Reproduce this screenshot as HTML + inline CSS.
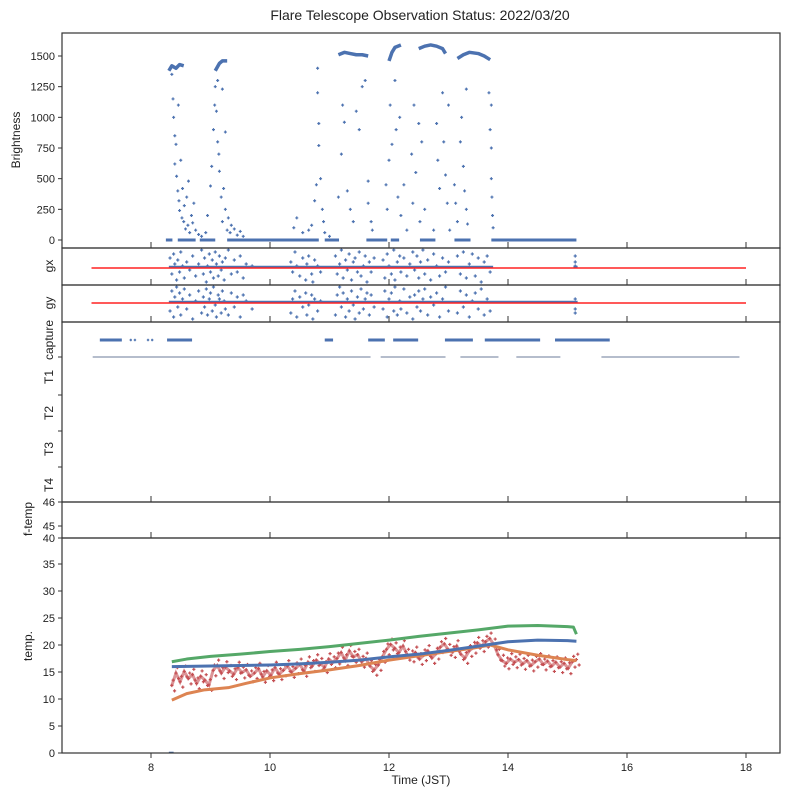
<!DOCTYPE html>
<html><head><meta charset="utf-8"><style>
body{margin:0;background:#fff;}
svg text{font-family:"Liberation Sans",Arial,sans-serif;fill:#222;}
</style></head><body>
<svg id="chart" width="789" height="798" xmlns="http://www.w3.org/2000/svg">
<text x="420" y="20" font-size="14" text-anchor="middle">Flare Telescope Observation Status: 2022/03/20</text>
<text x="421" y="784" font-size="12" text-anchor="middle">Time (JST)</text>
</svg>
<script>
// ---- data ----
const xTicks=[8,10,12,14,16,18];
const brightTicks=[0,250,500,750,1000,1250,1500];
const tempTicks=[0,5,10,15,20,25,30,35];
const brightZeroSegs=[[8.25,8.36],[8.45,8.75],[8.82,9.08],[9.28,10.82],[10.92,11.16],[11.62,11.97],[12.03,12.17],[12.52,12.78],[13.1,13.37],[13.72,15.15]];
const plateauT=[[8.3,8.35,8.42,8.48,8.55],[9.08,9.15,9.2,9.28],[11.15,11.25,11.35,11.45,11.55,11.65],[12.0,12.05,12.1,12.2],[12.5,12.6,12.7,12.8,12.9,12.95],[13.15,13.25,13.35,13.5,13.6,13.7]];
const plateauV=[[1380,1420,1400,1430,1420],[1380,1440,1460,1460],[1510,1530,1520,1510,1510,1500],[1460,1530,1570,1590],[1560,1580,1590,1580,1560,1520],[1480,1510,1530,1520,1500,1470]];
const brightT=[8.35,8.37,8.38,8.40,8.40,8.42,8.43,8.45,8.46,8.47,8.48,8.50,8.52,8.53,8.55,8.56,8.58,8.6,8.62,8.63,8.65,8.68,8.7,8.72,8.75,8.8,8.85,8.92,8.95,9.0,9.02,9.05,9.07,9.08,9.10,9.12,9.14,9.15,9.18,9.2,9.22,9.25,9.28,9.3,9.33,9.35,9.4,9.45,9.5,9.55,9.25,9.2,9.12,
10.4,10.45,10.55,10.65,10.7,10.75,10.78,10.8,10.8,10.82,10.82,10.85,10.88,10.9,10.92,11.0,
11.15,11.2,11.22,11.25,11.3,11.35,11.4,11.45,11.5,11.55,11.6,11.65,11.65,11.7,11.72,
11.95,11.97,12.0,12.02,12.05,12.1,12.12,12.15,12.18,12.2,12.25,12.3,
12.38,12.4,12.42,12.45,12.5,12.52,12.55,12.6,12.75,12.8,12.82,12.85,12.9,12.92,12.95,12.98,13.0,13.02,
13.1,13.12,13.15,13.2,13.22,13.25,13.27,13.3,13.3,13.32,13.68,13.7,13.72,13.72,13.73,13.75,13.74,13.72];
const brightV=[1350,1150,1000,850,620,780,520,400,1100,320,240,650,180,420,150,280,90,350,120,480,60,200,140,300,80,45,30,60,200,440,600,900,1100,1250,1050,800,700,560,350,150,420,250,80,180,60,120,90,40,70,30,880,1230,1300,
100,180,60,80,120,320,450,1400,1200,950,770,500,250,150,60,30,
350,700,1100,960,400,250,150,1050,900,1250,1300,300,480,150,80,
450,250,650,1100,780,1300,900,350,1000,200,450,80,
700,300,1100,550,950,150,800,250,80,950,650,420,1200,800,530,300,1100,80,
450,300,150,800,1000,600,400,1230,250,130,1200,900,750,500,350,100,200,1100];
const gT=[8.32,8.35,8.38,8.40,8.43,8.45,8.48,8.50,8.53,8.56,8.6,8.65,8.7,8.75,8.8,8.85,8.88,8.9,8.93,8.95,8.98,9.0,9.03,9.05,9.08,9.1,9.13,9.15,9.18,9.2,9.23,9.25,9.3,9.35,9.4,9.45,9.5,9.55,9.6,9.7,
10.35,10.38,10.42,10.45,10.5,10.55,10.6,10.62,10.65,10.7,10.72,10.75,10.8,10.85,
11.1,11.13,11.17,11.2,11.23,11.27,11.3,11.33,11.37,11.4,11.43,11.47,11.5,11.53,11.57,11.6,11.63,11.67,11.7,11.75,
11.9,11.93,11.97,12.0,12.04,12.08,12.1,12.14,12.18,12.2,12.25,12.3,12.35,12.4,12.43,12.47,12.5,12.53,12.57,12.6,12.65,12.7,12.75,12.8,12.85,12.9,12.95,13.0,13.15,13.2,13.25,13.3,13.35,13.4,13.45,13.5,13.55,13.6,13.65,13.7,
15.13,15.13,15.13];
const gxV=[0.5,-0.3,0.7,0.2,-0.6,0.4,-0.2,0.8,0.1,-0.5,0.3,-0.1,0.6,-0.4,0.2,0.9,-0.3,0.5,-0.7,0.1,0.7,-0.2,0.4,-0.5,0.8,0.2,-0.4,0.6,-0.1,0.3,-0.6,0.5,0.9,-0.3,0.4,-0.2,0.6,-0.5,0.2,0.1,
0.3,-0.2,0.8,0.1,-0.4,0.5,-0.6,0.2,0.6,-0.3,-0.7,0.4,0.1,-0.2,
0.6,-0.3,0.2,0.9,-0.5,0.4,-0.1,0.7,-0.6,0.3,0.5,-0.2,0.8,-0.4,0.1,0.6,-0.7,0.3,-0.2,0.5,
0.4,-0.5,0.7,0.1,-0.3,0.9,-0.6,0.3,0.6,-0.2,0.5,-0.4,0.2,0.8,-0.1,0.6,-0.5,0.3,0.9,-0.3,0.4,-0.6,0.7,0.1,-0.4,0.5,-0.2,0.3,0.6,-0.3,0.8,-0.5,0.2,0.7,-0.4,0.5,-0.7,0.3,0.6,-0.2,
0.6,0.3,0.1];
const gyV=[-0.4,0.6,-0.7,0.3,0.8,-0.2,0.5,-0.6,0.2,0.7,-0.3,0.4,-0.8,0.1,0.6,-0.5,0.3,-0.2,0.7,-0.6,0.2,0.5,-0.4,0.8,-0.1,-0.7,0.4,0.2,-0.5,0.6,0.1,-0.3,-0.6,0.5,-0.2,0.3,-0.7,0.4,0.1,-0.3,
-0.5,0.2,0.6,-0.7,0.3,-0.2,0.5,-0.6,-0.1,0.4,-0.8,0.2,-0.4,0.1,
-0.6,0.4,0.8,-0.2,0.5,-0.7,0.2,-0.4,0.6,-0.1,-0.8,0.3,-0.5,0.7,-0.3,0.2,0.5,-0.6,0.4,-0.2,
-0.3,0.6,-0.7,0.2,0.5,-0.4,0.8,-0.6,0.1,-0.3,0.7,-0.5,0.3,-0.8,0.4,-0.2,0.6,-0.4,0.2,0.7,-0.6,0.3,-0.1,0.5,-0.7,0.2,0.8,-0.4,-0.5,0.6,-0.2,0.4,-0.7,0.1,0.5,-0.3,0.7,-0.6,0.2,-0.4,
-0.5,-0.3,0.2];
const gxBaseSegs=[[8.3,13.75],[15.1,15.17]];
const gyBaseSegs=[[8.3,15.17]];
const redLineRange=[7.0,18.0];
const captureSegs=[[7.14,7.51],[8.27,8.69],[10.92,11.06],[11.65,11.93],[12.07,12.49],[12.94,13.41],[13.61,14.54],[14.79,15.71]];
const captureDots=[7.66,7.73,7.95,8.02];
const t1Segs=[[7.02,11.69],[11.86,12.95],[13.2,13.84],[14.14,14.88],[15.57,17.89]];
const blueTempT=[8.35,9,10,10.5,11,11.5,12,12.5,13,13.5,14,14.5,15,15.15];
const blueTempV=[16.0,16.1,16.3,16.5,16.8,17.2,17.8,18.3,19.0,19.8,20.6,20.9,20.8,20.7];
const greenTempT=[8.35,8.6,9,9.5,10,10.5,11,11.5,12,12.5,13,13.5,14,14.5,15,15.1,15.15];
const greenTempV=[16.9,17.4,17.9,18.3,18.8,19.2,19.7,20.3,20.9,21.6,22.2,22.8,23.5,23.6,23.4,23.3,22.0];
const orangeTempT=[8.35,8.6,8.9,9.3,9.6,10,10.5,11,11.5,12,12.5,13,13.4,13.7,14,14.5,15,15.15];
const orangeTempV=[9.8,11.0,11.7,12.1,12.9,13.9,14.7,15.4,16.2,17.2,18.0,18.8,19.4,20.0,19.1,18.1,17.3,17.1];
const redTempV=[12.5,14.8,13.2,15.1,13.8,14.5,12.9,14.2,13.5,12.6,
15.3,16.2,14.8,15.9,15.2,14.6,15.8,14.9,15.4,14.2,
14.8,15.6,14.1,15.2,14.4,15.8,14.6,15.3,16.1,15.0,
15.7,16.4,15.2,16.8,16.1,17.2,16.5,15.9,17.4,16.8,
17.5,18.6,17.2,18.9,17.8,18.2,16.9,17.5,16.1,15.4,
16.3,17.8,19.2,20.1,19.4,18.6,19.8,18.2,17.9,18.6,
17.4,18.1,18.9,17.6,18.4,19.6,20.2,19.1,18.7,19.8,
18.3,17.6,18.9,19.5,20.4,19.8,20.6,21.2,20.1,18.2,
17.1,16.6,17.4,16.8,17.3,16.5,17.1,16.2,16.9,17.4,
16.4,17.0,16.1,16.8,15.9,16.6,15.7,16.9,17.3];
const redTempStart=8.35, redTempEnd=15.15;

// ---- layout ----
const NS="http://www.w3.org/2000/svg";
const svg=document.getElementById('chart');
const L=62,R=780;
const X=t=>151+(t-8)*59.5;
const P={bright:[33,248],gx:[248,285],gy:[285,322],cap:[322,502],ft:[502,538],temp:[538,753]};
const Yb=v=>240-v*(184/1500);
const Ygx=v=>268-v*20;
const Ygy=v=>303-v*20;
const Yt=v=>753-v*5.4;
function el(tag,attrs,parent){const e=document.createElementNS(NS,tag);for(const k in attrs)e.setAttribute(k,attrs[k]);(parent||svg).appendChild(e);return e;}
function grp(name){const g=el('g',{});return g;}
function plus(g,x,y,c,s){el('path',{d:`M${x-s} ${y}H${x+s}M${x} ${y-s}V${y+s}`,stroke:c,'stroke-width':1.2},g);}
const BLUE='#4c72b0';

// brightness
let g=grp('brightness-zero-baseline');
brightZeroSegs.forEach(s=>el('line',{x1:X(s[0]),x2:X(s[1]),y1:Yb(0),y2:Yb(0),stroke:BLUE,'stroke-width':3},g));
g=grp('brightness-plateaus');
plateauT.forEach((ts,i)=>el('polyline',{points:ts.map((t,j)=>X(t)+','+Yb(plateauV[i][j])).join(' '),fill:'none',stroke:BLUE,'stroke-width':3.5,'stroke-linejoin':'round'},g));
g=grp('brightness-points');
brightT.forEach((t,i)=>plus(g,X(t),Yb(brightV[i]),BLUE,1.5));

// gx / gy
[[gxV,Ygx,'gx',gxBaseSegs],[gyV,Ygy,'gy',gyBaseSegs]].forEach(([vals,Y,nm,segs])=>{
  let gg=grp(nm+'-baseline');
  segs.forEach(s=>el('line',{x1:X(s[0]),x2:X(s[1]),y1:Y(0)-1,y2:Y(0)-1,stroke:BLUE,'stroke-width':2.5},gg));
  gg=grp(nm+'-points');
  gT.forEach((t,i)=>plus(gg,X(t),Y(vals[i]),BLUE,1.6));
  gg=grp(nm+'-reference-line');
  el('line',{x1:X(redLineRange[0]),x2:X(redLineRange[1]),y1:Y(0),y2:Y(0),stroke:'#f22',"stroke-width":1.6},gg);
});

// capture
g=grp('capture-status');
captureSegs.forEach(s=>el('line',{x1:X(s[0]),x2:X(s[1]),y1:340,y2:340,stroke:BLUE,'stroke-width':3},g));
captureDots.forEach(t=>plus(g,X(t),340,BLUE,1.2));
g=grp('t1-status');
t1Segs.forEach(s=>el('line',{x1:X(s[0]),x2:X(s[1]),y1:357,y2:357,stroke:'#3a4f78','stroke-width':0.8},g));

// temperatures
g=grp('temp-red-series');
const rStep=(redTempEnd-redTempStart)/(redTempV.length-1);
el('polyline',{points:redTempV.map((v,i)=>X(redTempStart+i*rStep)+','+Yt(v)).join(' '),fill:'none',stroke:'#c44e52','stroke-width':3,'stroke-opacity':0.6},g);
redTempV.forEach((v,i)=>{const t=redTempStart+i*rStep;
  plus(g,X(t),Yt(v),'#c44e52',1.6);
  plus(g,X(t+rStep*0.33),Yt(v+1.0),'#c44e52',1.6);
  plus(g,X(t+rStep*0.66),Yt(v-1.0),'#c44e52',1.6);});
[[orangeTempT,orangeTempV,'#dd8452','temp-orange-series'],[blueTempT,blueTempV,BLUE,'temp-blue-series'],[greenTempT,greenTempV,'#55a868','temp-green-series']].forEach(([ts,vs,c,nm])=>{
  const gg=grp(nm);
  el('polyline',{points:ts.map((t,i)=>X(t)+','+Yt(vs[i])).join(' '),fill:'none',stroke:c,'stroke-width':3,'stroke-linejoin':'round'},gg);
});
g=grp('temp-blue-series');
el('line',{x1:X(8.3),x2:X(8.38),y1:Yt(0.1),y2:Yt(0.1),stroke:BLUE,'stroke-width':1.5},g);

// frames & axes
g=grp('axes');
Object.entries(P).forEach(([k,[a,b]])=>{
  el('rect',{x:L,y:a,width:R-L,height:b-a,fill:'none',stroke:'#333','stroke-width':1.2},g);
  xTicks.forEach(t=>{
    if(k==='temp') el('line',{x1:X(t),x2:X(t),y1:b,y2:b+5,stroke:'#333'},g);
    else el('line',{x1:X(t),x2:X(t),y1:b,y2:b-6,stroke:'#333'},g);
  });
});
function ytick(y,label,name){el('line',{x1:L-4,x2:L,y1:y,y2:y,stroke:'#333'},g);
  if(label!==null){const t=el('text',{x:L-7,y:y+4,'font-size':11,'text-anchor':'end'},g);t.textContent=label;
  
  }}
brightTicks.forEach(v=>ytick(Yb(v),v,'brightness-tick-label'));
tempTicks.forEach(v=>ytick(Yt(v),v,'temp-tick-label'));
ytick(538,'40','temp-tick-label');
ytick(502,'46','ftemp-tick-label');ytick(526,'45','ftemp-tick-label');
[357,395,431,467].forEach(y=>ytick(y,null,''));
xTicks.forEach(t=>{const tx=el('text',{x:X(t),y:771,'font-size':11,'text-anchor':'middle'},g);tx.textContent=t;
  
  });
function ylab(x,y,txt,name){const t=el('text',{x:x,y:y,'font-size':12,'text-anchor':'middle',transform:`rotate(-90 ${x} ${y})`},g);t.textContent=txt;
  
  }
ylab(20,140,'Brightness','brightness-axis-title');
ylab(53,266,'gx','gx-axis-title');
ylab(53,303,'gy','gy-axis-title');
ylab(53,340,'capture','capture-label');
ylab(53,377,'T1','t1-label');
ylab(53,413,'T2','t2-label');
ylab(53,449,'T3','t3-label');
ylab(53,485,'T4','t4-label');
ylab(32,519,'f-temp','ftemp-axis-title');
ylab(32,646,'temp.','temp-axis-title');
</script>
</body></html>
